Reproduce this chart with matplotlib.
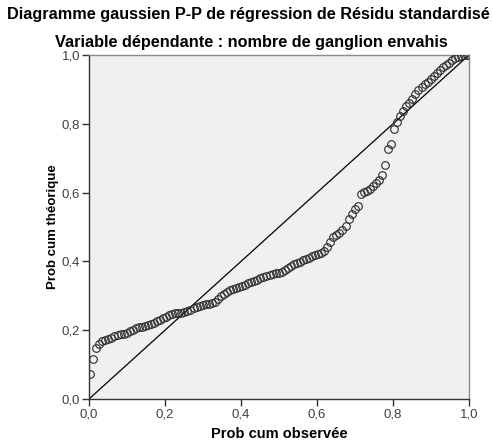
import matplotlib.pyplot as plt
import numpy as np

# Probabilités cumulées
prob_observee = [
    0.003, 0.011, 0.019, 0.027, 0.035, 0.043, 0.051, 0.059, 0.067, 0.075,
    0.083, 0.091, 0.099, 0.107, 0.115, 0.123, 0.131, 0.139, 0.147, 0.155,
    0.163, 0.171, 0.179, 0.187, 0.195, 0.203, 0.211, 0.219, 0.227, 0.235,
    0.243, 0.251, 0.259, 0.267, 0.275, 0.283, 0.291, 0.299, 0.307, 0.315,
    0.323, 0.331, 0.339, 0.347, 0.355, 0.363, 0.371, 0.379, 0.387, 0.395,
    0.403, 0.411, 0.419, 0.427, 0.435, 0.443, 0.451, 0.459, 0.467, 0.475,
    0.483, 0.491, 0.499, 0.507, 0.515, 0.523, 0.531, 0.539, 0.547, 0.555,
    0.563, 0.571, 0.579, 0.587, 0.595, 0.603, 0.611, 0.619, 0.627, 0.635,
    0.643, 0.651, 0.659, 0.667, 0.675, 0.683, 0.691, 0.699, 0.707, 0.715,
    0.723, 0.731, 0.739, 0.747, 0.755, 0.763, 0.771, 0.779, 0.787, 0.795,
    0.803, 0.811, 0.819, 0.827, 0.835, 0.843, 0.851, 0.859, 0.867, 0.875,
    0.883, 0.891, 0.899, 0.907, 0.915, 0.923, 0.931, 0.939, 0.947, 0.955,
    0.963, 0.971, 0.979, 0.987, 0.995,
]
prob_theorique = [
    0.073, 0.115, 0.147, 0.160, 0.168, 0.172, 0.175, 0.178, 0.182, 0.185,
    0.188, 0.190, 0.193, 0.197, 0.202, 0.206, 0.208, 0.210, 0.212, 0.215,
    0.219, 0.222, 0.226, 0.231, 0.235, 0.239, 0.243, 0.246, 0.249, 0.250,
    0.251, 0.252, 0.256, 0.260, 0.264, 0.267, 0.270, 0.272, 0.275, 0.277,
    0.280, 0.282, 0.290, 0.299, 0.306, 0.312, 0.317, 0.320, 0.323, 0.326,
    0.328, 0.332, 0.336, 0.340, 0.344, 0.347, 0.351, 0.354, 0.357, 0.360,
    0.362, 0.365, 0.367, 0.369, 0.374, 0.381, 0.387, 0.391, 0.395, 0.399,
    0.403, 0.407, 0.411, 0.415, 0.419, 0.422, 0.425, 0.429, 0.441, 0.456,
    0.470, 0.477, 0.484, 0.492, 0.504, 0.522, 0.539, 0.552, 0.562, 0.597,
    0.601, 0.604, 0.611, 0.619, 0.628, 0.638, 0.650, 0.680, 0.728, 0.741,
    0.785, 0.805, 0.822, 0.838, 0.851, 0.861, 0.872, 0.886, 0.899, 0.908,
    0.915, 0.922, 0.931, 0.940, 0.948, 0.957, 0.964, 0.971, 0.978, 0.985,
    0.991, 0.995, 0.998, 0.999, 1.000,
]
ticks = [0.0, 0.2, 0.4, 0.6, 0.8, 1.0]
tick_labels = ["0,0", "0,2", "0,4", "0,6", "0,8", "1,0"]

plt.rcParams['font.family'] = ['Liberation Sans', 'DejaVu Sans']

fig = plt.figure(figsize=(4.93, 4.41), dpi=100)
ax = fig.add_axes([89 / 493, 1 - 399 / 441, 380 / 493, 344 / 441])
ax.set_facecolor('#f0f0f0')

# Diagonale de référence
ax.plot([0, 1], [0, 1], color='black', linewidth=0.9, zorder=2)

# Points P-P
ax.plot(prob_observee, prob_theorique, linestyle='none', marker='o',
        markersize=5.5, markerfacecolor='none', markeredgecolor='#2b2b2b',
        markeredgewidth=0.8, zorder=3)

ax.set_xlim(0, 1)
ax.set_ylim(0, 1)
ax.set_xticks(ticks)
ax.set_xticklabels(tick_labels)
ax.set_yticks(ticks)
ax.set_yticklabels(tick_labels)
ax.tick_params(direction='out', length=5, width=1, labelsize=9.5,
               labelcolor='#404040', color='#333333', pad=1.5)

for side in ['left', 'bottom']:
    ax.spines[side].set_color('#333333')
    ax.spines[side].set_linewidth(1.0)
for side in ['top', 'right']:
    ax.spines[side].set_color('#8c8c8c')
    ax.spines[side].set_linewidth(1.0)

ax.set_xlabel("Prob cum observée", fontsize=10.5, fontweight='bold', labelpad=5)
ax.set_ylabel("Prob cum théorique", fontsize=9.5, fontweight='bold', labelpad=2)

fig.text(0.504, 1 - 14 / 441, "Diagramme gaussien P-P de régression de Résidu standardisé",
         ha='center', va='center', fontsize=11.7, fontweight='bold')
fig.text(0.509, 1 - 42 / 441, "Variable dépendante : nombre de ganglion envahis",
         ha='center', va='center', fontsize=11.7, fontweight='bold')

plt.savefig("out.png", dpi=100)
